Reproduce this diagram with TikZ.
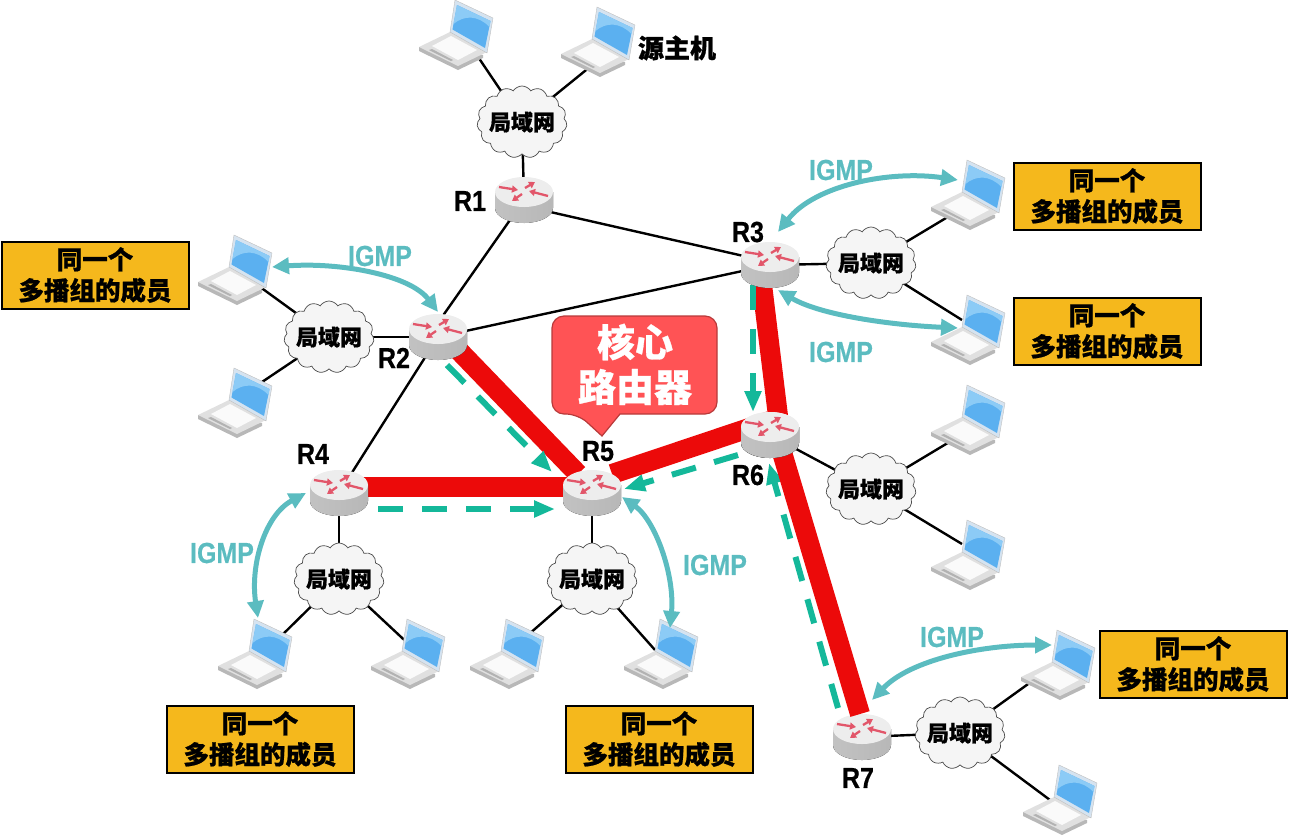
\documentclass[tikz,border=0pt]{standalone}
\usepackage{fontspec}
\usetikzlibrary{arrows.meta,shapes.symbols,calc}
\newfontfamily\cjk[BoldFeatures={FakeBold=0.8}]{Noto Sans CJK SC}
\newfontfamily\labf[BoldFeatures={FakeStretch=0.86,FakeBold=0.5}]{Liberation Sans}
\definecolor{teal1}{HTML}{5BBCC0}
\definecolor{grn}{HTML}{14B89A}
\definecolor{redl}{HTML}{EC0A0A}
\definecolor{yel}{HTML}{F5B81C}
\definecolor{rarrow}{HTML}{E2566A}
\definecolor{scr}{HTML}{5BB0F0}
\definecolor{scrl}{HTML}{8CCBF6}
\definecolor{scrb}{HTML}{D5E3F0}
\definecolor{callf}{HTML}{FF5355}
\definecolor{calld}{HTML}{B83A3A}
\tikzset{
 x=1pt,y=-1pt,
 wire/.style={line width=2.4pt,black},
 core/.style={line width=20pt,redl},
 flow/.style={line width=6pt,grn,dash pattern=on 25pt off 19pt,-{Triangle[length=21pt,width=16pt]}},
 igmp/.style={line width=5pt,teal1,{Triangle[length=17pt,width=16pt]}-{Triangle[length=17pt,width=16pt]}},
 igmplab/.style={font=\labf\bfseries\fontsize{29}{29}\selectfont,text=teal1,inner sep=0},
 rlab/.style={font=\labf\bfseries\fontsize{29}{29}\selectfont,text=black,inner sep=0},
 lan/.style={cloud,cloud puffs=15,cloud puff arc=115,aspect=1.3,draw=black!70,line width=.7pt,fill=black!4,
   minimum width=90pt,minimum height=72pt,inner sep=0,font=\cjk\bfseries\fontsize{22}{22}\selectfont},
 member/.style={draw=black,line width=2pt,fill=yel,minimum width=187pt,minimum height=67pt,inner sep=0,align=center,
   font=\cjk\bfseries\fontsize{25.5}{31}\selectfont},
 ra/.style={line width=2.3pt,rarrow,-{Triangle[length=6pt,width=7pt]}},
 router/.pic={
   \fill[left color=black!24,middle color=black!7,right color=black!28] (-29,-8) -- (-29,8) arc[start angle=180,end angle=0,x radius=29,y radius=15] -- (29,-8) -- cycle;
   \fill[black!7] (0,-8) ellipse[x radius=29,y radius=15];
   \draw[ra] (-25,-13) -- (-6,-10);
   \draw[ra] (1,-12) -- (11,-18);
   \draw[ra] (24,-4) -- (5,-9);
   \draw[ra] (-2,-6) -- (-12,1);
 },
 laptop/.pic={
   \fill[black!28] (-37,12) -- (-37,16) -- (2,35) -- (27,23) -- (27,20) -- cycle;
   \fill[black!12] (-37,12) -- (-6,-3) -- (31,17) -- (2,31) -- cycle;
   \fill[black!2] (-24,11) -- (-5,1) -- (21,15) -- (2,25) -- cycle;
   \fill[black!30] (-27,15) -- (-24,14) -- (-3,25) -- (-5,26) -- cycle;
   \fill[scrb,draw=black!25,line width=.4pt] (-1,-35) -- (37,-17) -- (31,18) -- (-6,-3) -- cycle;
   \fill[scr] (1,-30) -- (34.5,-14) -- (29,13) -- (-3.5,-5.5) -- cycle;
   \fill[scrl] (1,-30) -- (34.5,-14) -- (33.5,-8) .. controls (22,-20) and (8,-20) .. (-2.5,-11) -- cycle;
 },
}
\begin{document}
\begin{tikzpicture}
\useasboundingbox (0,0) rectangle (1289,836);
% routers
\coordinate (r1) at (524,200); \coordinate (r2) at (438,337); \coordinate (r3) at (770,265);
\coordinate (r4) at (339,493); \coordinate (r5) at (592,493); \coordinate (r6) at (770,435);
\coordinate (r7) at (862,737);
% clouds (positions for the wires)
\coordinate (c1p) at (522,122); \coordinate (c2p) at (329,337); \coordinate (c3p) at (871,263);
\coordinate (c4p) at (339,579); \coordinate (c5p) at (592,579); \coordinate (c6p) at (871,489);
\coordinate (c7p) at (960,733);
% laptop ports
\coordinate (la) at (470,45); \coordinate (lb) at (596,62);
\coordinate (lc) at (956,212); \coordinate (ld) at (962,320);
\coordinate (le) at (956,438); \coordinate (lf) at (962,544);
\coordinate (lg) at (256,284); \coordinate (lh) at (262,382);
\coordinate (li) at (275,642); \coordinate (lj) at (415,650);
\coordinate (lk) at (520,642); \coordinate (ll) at (655,650);
\coordinate (lm) at (1042,674); \coordinate (ln) at (1050,800);
\draw[wire] (r1) -- ($(r2)+(-10,0)$);
\draw[wire] ($(r1)+(0,6)$) -- ($(r3)+(0,-3)$);
\draw[wire] (r2) -- (r3);
\draw[wire] (r2) -- (r4);
\draw[wire] (c1p) -- (r1);
\draw[wire] (c2p) -- (r2);
\draw[wire] (c3p) -- (r3);
\draw[wire] (c4p) -- (r4);
\draw[wire] (c5p) -- (r5);
\draw[wire] (c6p) -- (r6);
\draw[wire] (c7p) -- (r7);
\draw[wire] (la) -- (c1p);
\draw[wire] (lb) -- (c1p);
\draw[wire] (lc) -- (c3p);
\draw[wire] (ld) -- (c3p);
\draw[wire] (le) -- (c6p);
\draw[wire] (lf) -- (c6p);
\draw[wire] (lg) -- (c2p);
\draw[wire] (lh) -- (c2p);
\draw[wire] (li) -- (c4p);
\draw[wire] (lj) -- (c4p);
\draw[wire] (lk) -- (c5p);
\draw[wire] (ll) -- (c5p);
\draw[wire] (lm) -- (c7p);
\draw[wire] (ln) -- (c7p);
% clouds
\node[lan] (c1) at (c1p) {\makebox[0pt]{局域网}};
\node[lan] (c2) at (c2p) {\makebox[0pt]{局域网}};
\node[lan] (c3) at (c3p) {\makebox[0pt]{局域网}};
\node[lan] (c4) at (c4p) {\makebox[0pt]{局域网}};
\node[lan] (c5) at (c5p) {\makebox[0pt]{局域网}};
\node[lan] (c6) at (c6p) {\makebox[0pt]{局域网}};
\node[lan] (c7) at (c7p) {\makebox[0pt]{局域网}};
% core tree
\coordinate (k5a) at (578,474); \coordinate (k5b) at (612,474);
\coordinate (k6b) at (778,416); \coordinate (k7) at (860,714);
\draw[core] ($(r2)+(0,-8)$) -- (k5a);
\draw[core] ($(r4)+(0,-6)$) -- ($(r5)+(0,-6)$);
\draw[core] (k5b) -- ($(r6)+(0,-14)$);
\draw[core] ($(r3)+(-11,-5)$) -- (k6b);
% flow
\coordinate (fa) at (447,365); \coordinate (fb) at (552,472);
\coordinate (fc) at (378,509); \coordinate (fd) at (555,509);
\coordinate (fe) at (753,285); \coordinate (ff) at (753,412);
\coordinate (fg) at (738,455); \coordinate (fh) at (624,489);
\coordinate (fi) at (838,708); \coordinate (fj) at (769,463);
\draw[flow] (fa) -- (fb);
\draw[flow] (fc) -- (fd);
\draw[flow] (fe) -- (ff);
\draw[flow] (fg) -- (fh);
\draw[flow] (fi) -- (fj);
% laptops
\pic at (456,35) {laptop}; \pic at (598,42) {laptop};
\pic at (968,195) {laptop}; \pic at (968,330) {laptop};
\pic at (968,420) {laptop}; \pic at (968,555) {laptop};
\pic at (235,270) {laptop}; \pic at (235,403) {laptop};
\pic at (255,654) {laptop}; \pic at (408,654) {laptop};
\pic at (507,654) {laptop}; \pic at (661,654) {laptop};
\pic at (1058,665) {laptop}; \pic at (1060,800) {laptop};
% routers on top
\foreach \r in {r1,r2,r3,r4,r5,r6,r7} \pic at (\r) {router};
\draw[core] ($(r6)+(8,4)$) -- (k7);
\pic at (r6) {router};
% IGMP arrows
\coordinate (ia) at (272,267); \coordinate (ib) at (438,312);
\coordinate (ic) at (778,232); \coordinate (id) at (958,180);
\coordinate (ie) at (778,290); \coordinate (if) at (958,328);
\coordinate (ig) at (306,493); \coordinate (ih) at (258,618);
\coordinate (ii) at (622,497); \coordinate (ij) at (670,628);
\coordinate (ik) at (872,700); \coordinate (il) at (1052,645);
\draw[igmp] (ia) .. controls (340,262) and (410,275) .. (ib);
\draw[igmp] (ic) .. controls (815,185) and (890,170) .. (id);
\draw[igmp] (ie) .. controls (820,315) and (890,325) .. (if);
\draw[igmp] (ig) .. controls (265,515) and (250,565) .. (ih);
\draw[igmp] (ii) .. controls (655,520) and (675,575) .. (ij);
\draw[igmp] (ik) .. controls (910,660) and (980,645) .. (il);
% callout
\draw[fill=callf,draw=calld,line width=1.2pt] (620,414) [rounded corners=12pt] -- (717,414) -- (717,316) -- (552,316) -- (552,414) -- (578,414) [sharp corners] -- (602,436) -- cycle;
\node[font=\cjk\bfseries\fontsize{38}{38}\selectfont,text=white,inner sep=0] (ca) at (635,342) {核心};
\node[font=\cjk\bfseries\fontsize{38}{38}\selectfont,text=white,inner sep=0] (cb) at (635,387) {路由器};
% member boxes
\node[member] (m1) at (1107,196) {同一个\\多播组的成员};
\node[member] (m2) at (1107,331) {同一个\\多播组的成员};
\node[member] (m3) at (95,275) {同一个\\多播组的成员};
\node[member] (m4) at (260,739) {同一个\\多播组的成员};
\node[member] (m5) at (659,739) {同一个\\多播组的成员};
\node[member] (m6) at (1193,664) {同一个\\多播组的成员};
% labels
\node[rlab] (t1) at (470,201) {R1};
\node[rlab] (t2) at (394,358) {R2};
\node[rlab] (t3) at (748,232) {R3};
\node[rlab] (t4) at (313,454) {R4};
\node[rlab] (t5) at (598,451) {R5};
\node[rlab] (t6) at (748,475) {R6};
\node[rlab] (t7) at (858,778) {R7};
\node[font=\cjk\bfseries\fontsize{26}{26}\selectfont,inner sep=0] (src) at (677,48) {源主机};
\node[igmplab] (g1) at (380,256) {IGMP};
\node[igmplab] (g2) at (841,170) {IGMP};
\node[igmplab] (g3) at (841,352) {IGMP};
\node[igmplab] (g4) at (222,553) {IGMP};
\node[igmplab] (g5) at (715,565) {IGMP};
\node[igmplab] (g6) at (952,637) {IGMP};
\end{tikzpicture}
\end{document}
